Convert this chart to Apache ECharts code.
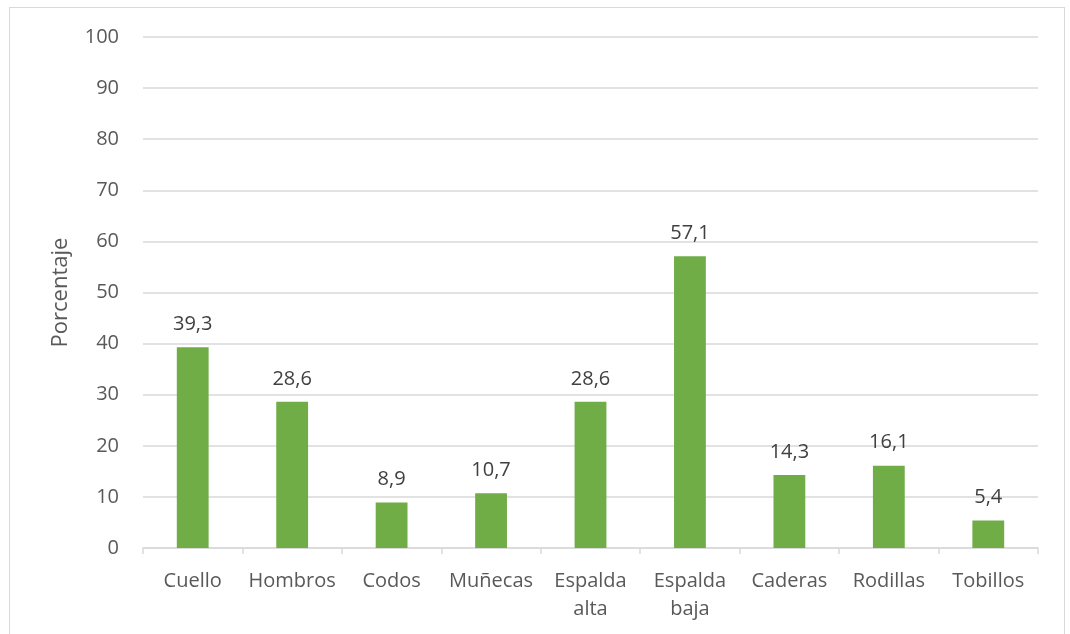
<!DOCTYPE html>
<html>
<head>
<meta charset="utf-8">
<style>
  html, body { margin: 0; padding: 0; background: #fff; }
  #frame { position: absolute; left: 9px; top: 7px; width: 1056px; height: 640px; border: 1.5px solid #d9d9d9; box-sizing: border-box; }
  #chart { position: absolute; left: 0; top: 0; width: 1070px; height: 634px; }
</style>
<script src="https://cdn.jsdelivr.net/npm/echarts@6/dist/echarts.min.js"></script>
</head>
<body>
<div id="frame"></div>
<div id="chart"></div>
<script>
// Body regions and share of respondents reporting discomfort (%)
const categories = ['Cuello', 'Hombros', 'Codos', 'Muñecas', 'Espalda\nalta', 'Espalda\nbaja', 'Caderas', 'Rodillas', 'Tobillos'];
const percentages = [39.3, 28.6, 8.9, 10.7, 28.6, 57.1, 14.3, 16.1, 5.4];
const yAxisTitle = 'Porcentaje';

const textColor = '#595959';
const lineColor = '#d9d9d9';
const fontFamily = '"Open Sans", "Noto Sans", sans-serif';

const chart = echarts.init(document.getElementById('chart'), null, { renderer: 'canvas' });
chart.setOption({
  animation: false,
  textStyle: { fontFamily: fontFamily },
  grid: { left: 143, right: 32, top: 37, bottom: 86, containLabel: false },
  xAxis: {
    type: 'category',
    data: categories,
    axisLine: { lineStyle: { color: lineColor, width: 1.5 } },
    axisTick: { show: true, alignWithLabel: false, length: 6, lineStyle: { color: lineColor, width: 1.5 } },
    axisLabel: { color: textColor, fontSize: 20, margin: 19, lineHeight: 28, fontFamily: fontFamily, interval: 0 }
  },
  yAxis: {
    type: 'value',
    min: 0,
    max: 100,
    interval: 10,
    name: yAxisTitle,
    nameLocation: 'middle',
    nameRotate: 90,
    nameGap: 71,
    nameTextStyle: { color: textColor, fontSize: 22, fontFamily: fontFamily },
    axisLine: { show: false },
    axisTick: { show: false },
    axisLabel: { color: textColor, fontSize: 20, margin: 24, fontFamily: fontFamily },
    splitLine: { lineStyle: { color: lineColor, width: 1.5 } }
  },
  series: [{
    type: 'bar',
    data: percentages,
    barWidth: '32%',
    itemStyle: { color: '#70ad47' },
    label: {
      show: true,
      position: 'top',
      distance: 13,
      color: '#404040',
      fontSize: 20,
      fontFamily: fontFamily,
      formatter: p => p.value.toFixed(1).replace('.', ',')
    }
  }]
});
</script>
</body>
</html>
